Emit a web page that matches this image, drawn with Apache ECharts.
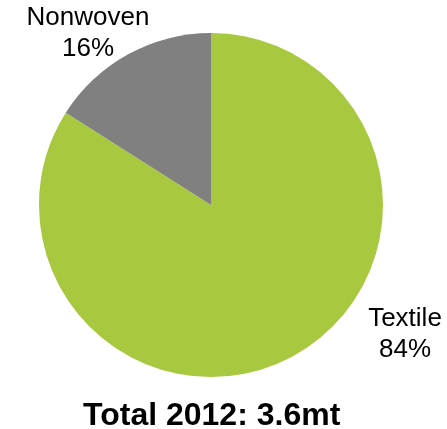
<!DOCTYPE html>
<html>
<head>
<meta charset="utf-8">
<style>
  html, body { margin: 0; padding: 0; background: #fff; }
  #chart { width: 447px; height: 429px; }
</style>
<script src="https://cdn.jsdelivr.net/npm/echarts@6/dist/echarts.min.js"></script>
</head>
<body>
<div id="chart"></div>
<script>
// Fibre end-use split, 2012
const categories = ['Textile', 'Nonwoven'];
const shares = [84, 16];
const colors = ['#A7C83F', '#808080'];
const totalLabel = 'Total 2012: 3.6mt';

// fixed label anchors for each slice
const labelAnchors = [
  { x: 405, y: 334 },
  { x: 88, y: 33 }
];

const chart = echarts.init(document.getElementById('chart'), null, { renderer: 'canvas' });

chart.setOption({
  animation: false,
  title: {
    text: totalLabel,
    left: 78,
    top: 395,
    textStyle: {
      fontFamily: 'Liberation Sans, Arial, sans-serif',
      fontSize: 32,
      fontWeight: 'bold',
      color: '#000'
    }
  },
  series: [{
    type: 'pie',
    center: [211, 205],
    radius: 172,
    startAngle: 90,
    clockwise: true,
    silent: true,
    label: {
      show: true,
      position: 'outside',
      overflow: 'none',
      edgeDistance: 0,
      bleedMargin: 0,
      formatter: p => p.name + '\n' + p.value + '%',
      fontFamily: 'Liberation Sans, Arial, sans-serif',
      fontSize: 26,
      lineHeight: 31,
      color: '#000',
      align: 'center'
    },
    labelLine: { show: false },
    labelLayout: p => ({
      x: labelAnchors[p.dataIndex].x,
      y: labelAnchors[p.dataIndex].y,
      align: 'center',
      verticalAlign: 'middle',
      width: 140
    }),
    itemStyle: { borderWidth: 0 },
    data: categories.map((name, i) => ({
      name: name,
      value: shares[i],
      itemStyle: { color: colors[i] }
    }))
  }]
});
</script>
</body>
</html>
